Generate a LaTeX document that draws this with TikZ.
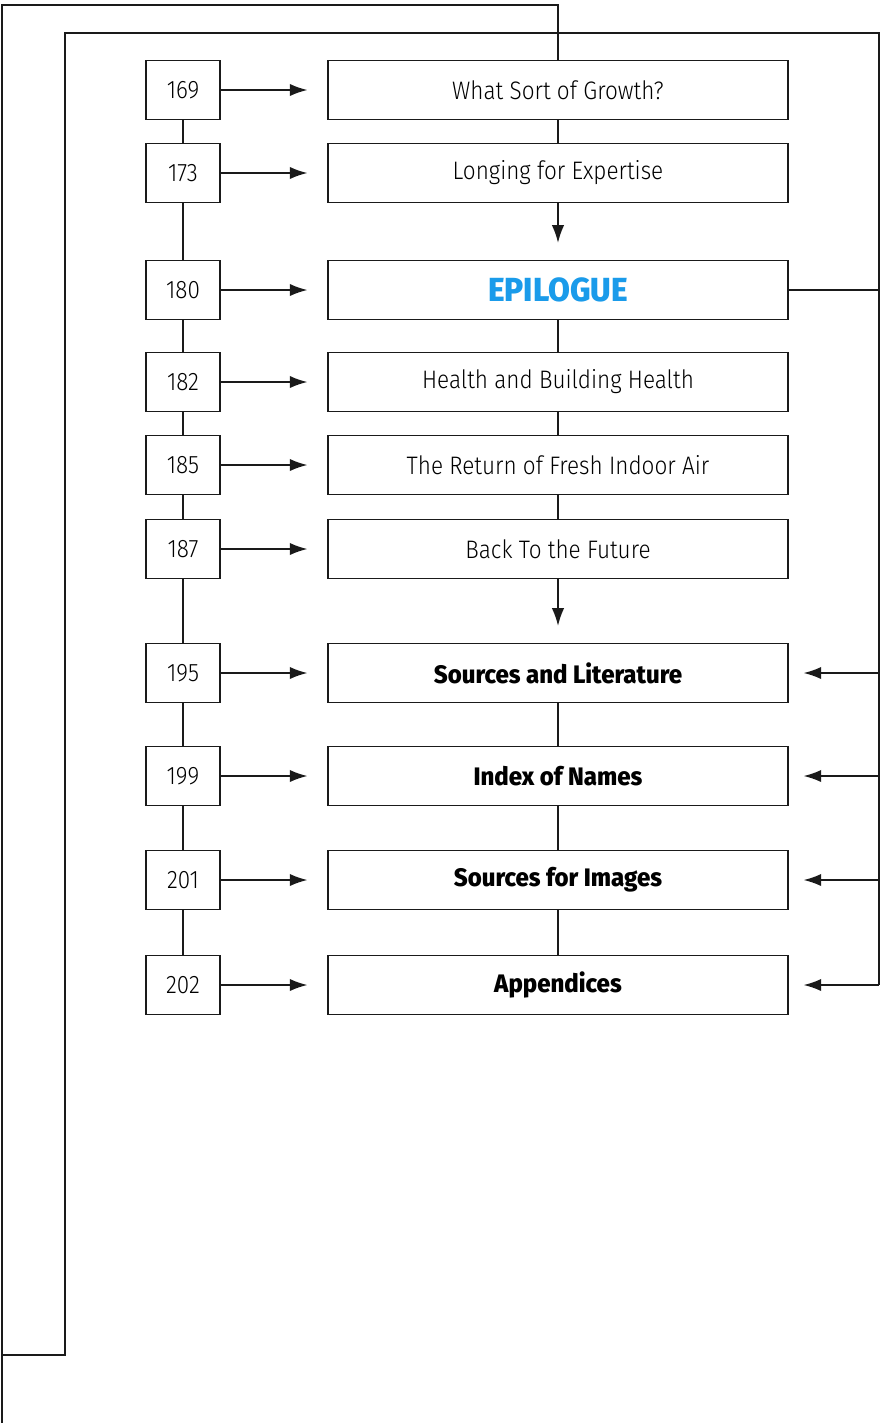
\documentclass[tikz,border=0pt]{standalone}
\usepackage{fontspec}
\setmainfont{Fira Sans}[UprightFont={* Light}, BoldFont={* ExtraBold}, UprightFeatures={FakeStretch=0.89}, BoldFeatures={FakeStretch=0.95}]
\usepackage{tikz}
\usetikzlibrary{calc,arrows.meta}
\usetikzlibrary{positioning}
\definecolor{ep-blue}{HTML}{1A9BEA}
\definecolor{ep-line}{HTML}{1A1A1A}

\begin{document}
\begin{tikzpicture}[
    x=0.02cm, y=-0.02cm,
    >={Latex[length=10pt, width=7pt]},
    page/.style={draw=ep-line, line width=0.8pt, minimum width=1.48cm, minimum height=1.18cm, inner sep=0pt, font=\fontsize{14.4}{17}\selectfont},
    chapter/.style={draw=ep-line, line width=0.8pt, minimum width=9.2cm, minimum height=1.18cm, inner sep=0pt, font=\fontsize{14.4}{17}\selectfont},
    backmatter/.style={chapter, font=\fontsize{14.4}{17}\selectfont\bfseries},
    link/.style={draw=ep-line, line width=0.8pt},
    conn/.style={->, link, shorten >=0.4cm}
]
\useasboundingbox (0,0) rectangle (882,1423);

% ── Seitenzahlen ──────────────────────────────────────────────
\node[page] (n169) at (183, 90) {169};
\node[page] (n173) at (183, 173) {173};
\node[page] (n180) at (183, 290) {180};
\node[page] (n182) at (183, 382) {182};
\node[page] (n185) at (183, 465) {185};
\node[page] (n187) at (183, 549) {187};
\node[page] (n195) at (183, 673) {195};
\node[page] (n199) at (183, 776) {199};
\node[page] (n201) at (183, 880) {201};
\node[page] (n202) at (183, 985) {202};

% ── Kapitel ───────────────────────────────────────────────────
\node[chapter] (t169) at (558, 90) {What Sort of Growth?};
\node[chapter] (t173) at (558, 173) {Longing for Expertise};
\node[chapter, font=\fontsize{19}{22}\selectfont\bfseries, text=ep-blue] (t180) at (558, 290) {EPILOGUE};
\node[chapter] (t182) at (558, 382) {Health and Building Health};
\node[chapter] (t185) at (558, 465) {The Return of Fresh Indoor Air};
\node[chapter] (t187) at (558, 549) {Back To the Future};
\node[backmatter] (t195) at (558, 673) {Sources and Literature};
\node[backmatter] (t199) at (558, 776) {Index of Names};
\node[backmatter] (t201) at (558, 880) {Sources for Images};
\node[backmatter] (t202) at (558, 985) {Appendices};

% ── Seite -> Kapitel ──────────────────────────────────────────
\foreach \p in {169,173,180,182,185,187,195,199,201,202}
    \draw[conn] (n\p) -- (t\p);

% ── Senkrechte Ketten ─────────────────────────────────────────
\draw[link] (n169) -- (n173) -- (n180) -- (n182) -- (n185) -- (n187) -- (n195) -- (n199) -- (n201) -- (n202);
\draw[link] (t169) -- (t173);
\draw[->, link, shorten >=0.34cm] (t173) -- (t180);
\draw[link] (t180) -- (t182) -- (t185) -- (t187);
\draw[->, link, shorten >=0.34cm] (t187) -- (t195);
\draw[link] (t195) -- (t199) -- (t201) -- (t202);

% ── Äußere Schleife ───────────────────────────────────────────
\coordinate (outer) at (2, 1423);
\coordinate (innerL) at (65, 1355);
\coordinate (rail) at (879, 33);
\draw[link] (t169.north) -- ++(0,-55) -| (outer);
\draw[link] (outer |- innerL) -- (innerL) |- (rail) -- (rail |- t202);
\draw[link] (t180.east) -- (t180 -| rail);
\foreach \p in {195,199,201,202}
    \draw[->, link, shorten >=0.3cm] (t\p -| rail) -- (t\p.east);

\end{tikzpicture}
\end{document}
